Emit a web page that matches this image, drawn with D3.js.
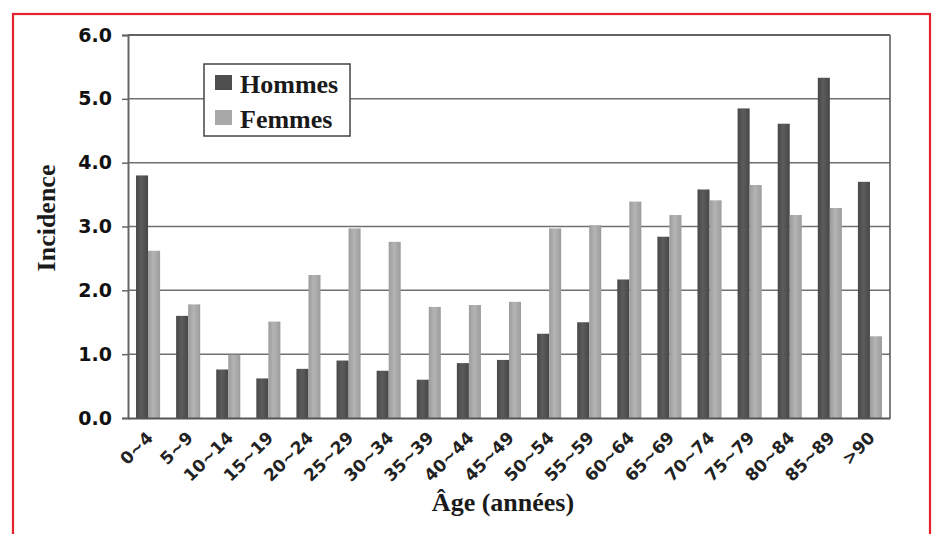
<!DOCTYPE html>
<html><head><meta charset="utf-8">
<script src="https://cdn.jsdelivr.net/npm/d3@7"></script>
<style>html,body{margin:0;padding:0;background:#fff;}svg{display:block;}</style>
</head><body>
<svg id="chart" width="932" height="534"></svg>
<script>
const categories = ["0~4","5~9","10~14","15~19","20~24","25~29","30~34","35~39","40~44","45~49","50~54","55~59","60~64","65~69","70~74","75~79","80~84","85~89",">90"];
const hommes = [3.80,1.60,0.76,0.62,0.77,0.90,0.74,0.60,0.86,0.91,1.32,1.50,2.17,2.84,3.58,4.85,4.61,5.33,3.70];
const femmes = [2.62,1.78,0.99,1.51,2.24,2.97,2.76,1.74,1.77,1.82,2.97,3.02,3.39,3.18,3.41,3.65,3.18,3.29,1.28];
const seriesNames = ["Hommes","Femmes"];
const yTicks = [0,1,2,3,4,5,6];

const svg = d3.select("#chart");
const M = {left:128, right:890, top:35, bottom:418};

// red frame
svg.append("rect").attr("x",13).attr("y",14).attr("width",917).attr("height",540)
  .attr("fill","none").attr("stroke","#e3222b").attr("stroke-width",2.2);

const defs = svg.append("defs");
function grad(id, edge, mid){
  const g = defs.append("linearGradient").attr("id",id).attr("x1","0").attr("x2","1").attr("y1","0").attr("y2","0");
  g.append("stop").attr("offset","0%").attr("stop-color",edge);
  g.append("stop").attr("offset","45%").attr("stop-color",mid);
  g.append("stop").attr("offset","100%").attr("stop-color",edge);
}
grad("gH","#474747","#5c5c5c");
grad("gF","#9c9c9c","#b4b4b4");

const x = d3.scaleBand().domain(categories).range([M.left, M.right]).paddingInner(0.4).paddingOuter(0.2);
const xs = d3.scaleBand().domain(seriesNames).range([0, x.bandwidth()]);
const y = d3.scaleLinear().domain([0,6]).range([M.bottom, M.top]);

// gridlines
svg.append("g").selectAll("line").data(yTicks.slice(1)).join("line")
  .attr("x1",M.left).attr("x2",M.right)
  .attr("y1",d=>y(d)).attr("y2",d=>y(d))
  .attr("stroke","#707070").attr("stroke-width",1.5);

// bars
const data = categories.map((c,i)=>({c, vals:[{s:"Hommes",v:hommes[i]},{s:"Femmes",v:femmes[i]}]}));
const grp = svg.append("g").selectAll("g").data(data).join("g")
  .attr("transform",d=>`translate(${x(d.c)},0)`);
grp.selectAll("rect").data(d=>d.vals).join("rect")
  .attr("x",d=>xs(d.s)).attr("width",xs.bandwidth())
  .attr("y",d=>y(d.v)).attr("height",d=>y(0)-y(d.v))
  .attr("fill",d=>d.s==="Hommes"?"url(#gH)":"url(#gF)");

// frame of plot
svg.append("line").attr("x1",M.left).attr("x2",M.right).attr("y1",M.top).attr("y2",M.top).attr("stroke","#555").attr("stroke-width",1.5);
svg.append("line").attr("x1",M.right).attr("x2",M.right).attr("y1",M.top).attr("y2",M.bottom).attr("stroke","#555").attr("stroke-width",1.5);

// y axis
const yAxis = d3.axisLeft(y).tickValues(yTicks).tickFormat(d3.format(".1f")).tickSize(6).tickPadding(10);
const ga = svg.append("g").attr("transform",`translate(${M.left},0)`).call(yAxis);
ga.select(".domain").attr("stroke","#666").attr("stroke-width",2);
ga.selectAll(".tick line").attr("stroke","#666").attr("stroke-width",1.5);
ga.selectAll(".tick text").attr("font-family","DejaVu Sans").attr("font-weight","bold").attr("font-size",19).attr("fill","#111");

// x axis
const xAxis = d3.axisBottom(x).tickSize(0).tickPadding(0);
const gx = svg.append("g").attr("transform",`translate(0,${M.bottom})`).call(xAxis);
gx.select(".domain").attr("stroke","#555").attr("stroke-width",2);
gx.selectAll(".tick text")
  .attr("font-family","DejaVu Sans").attr("font-weight","bold").attr("font-size",17).attr("fill","#222")
  .attr("text-anchor","end").attr("dy",null).attr("y",null)
  .attr("transform","translate(6,21) rotate(-45)");

// axis titles
svg.append("text").attr("x",503).attr("y",511).attr("text-anchor","middle")
  .attr("font-family","Liberation Serif").attr("font-weight","bold").attr("font-size",26).attr("fill","#1a1a1a")
  .text("Âge (années)");
svg.append("text").attr("transform","translate(55,218) rotate(-90)").attr("text-anchor","middle")
  .attr("font-family","Liberation Serif").attr("font-weight","bold").attr("font-size",26).attr("fill","#1a1a1a")
  .text("Incidence");

// legend
const lg = svg.append("g");
lg.append("rect").attr("x",204).attr("y",64).attr("width",146).attr("height",72)
  .attr("fill","#fff").attr("stroke","#444").attr("stroke-width",1.5);
const li = lg.selectAll("g").data(seriesNames).join("g")
  .attr("transform",(d,i)=>`translate(215,${75+i*35})`);
li.append("rect").attr("width",17).attr("height",15).attr("fill",(d,i)=>i===0?"#4e4e4e":"#a8a8a8");
li.append("text").attr("x",25).attr("y",18).attr("font-family","Liberation Serif").attr("font-weight","bold")
  .attr("font-size",26).attr("fill","#1a1a1a").text(d=>d);
</script>
</body></html>
